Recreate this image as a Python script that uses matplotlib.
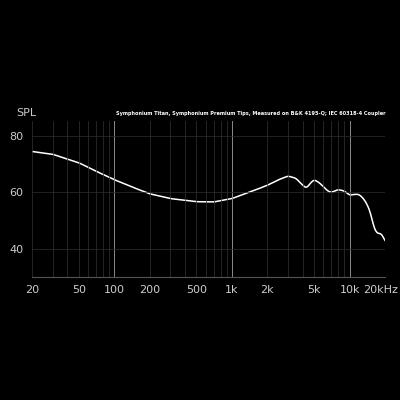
import matplotlib
matplotlib.use("Agg")
import matplotlib.pyplot as plt
import matplotlib.transforms as mtransforms
import numpy as np

freq = [20, 30, 50, 70, 100, 150, 200, 300, 500, 700, 1000, 1500, 2000, 2500, 3000, 3500, 4000, 4300, 4700, 5000, 5500, 6000, 6500, 7000, 8000, 9000, 10000, 11000, 12000, 13000, 14000, 15000, 16000, 17000, 18000, 19000, 20000]
spl = [74.5, 73.5, 70.5, 67.5, 64.5, 61.5, 59.5, 57.8, 56.7, 56.6, 57.8, 60.5, 62.5, 64.5, 65.8, 65.0, 62.5, 61.5, 63.5, 64.5, 63.5, 62.0, 60.5, 60.0, 61.0, 60.5, 59.0, 59.3, 59.3, 58.0, 56.0, 53.0, 48.0, 45.5, 45.5, 45.0, 42.5]
xticks = [20, 50, 100, 200, 500, 1000, 2000, 5000, 10000, 20000]
xlabels = ["20", "50", "100", "200", "500", "1k", "2k", "5k", "10k", "20kHz"]
yticks = [40, 60, 80]

fig = plt.figure(figsize=(4, 4), dpi=100, facecolor="black")
ax = fig.add_axes([0.08, 0.3075, 0.8825, 0.39])
ax.set_facecolor("black")
lf = np.log10(freq)
xs = np.logspace(np.log10(20), np.log10(20000), 600)
ys = np.interp(np.log10(xs), lf, spl)
k = np.ones(7) / 7
ys_s = np.convolve(np.pad(ys, 3, mode="edge"), k, mode="valid")
ax.plot(xs, ys_s, color="white", lw=1.1)
ax.set_xscale("log")
ax.set_xlim(20, 20000)
ax.set_ylim(30, 85.3)
minor = [m * 10**e for e in range(1, 5) for m in range(2, 10) if 20 <= m * 10**e <= 20000]
for f in minor:
    ax.axvline(f, color="#333333", lw=0.5)
for f in [100, 1000, 10000]:
    ax.axvline(f, color="#8a8a8a", lw=0.7)
for y in yticks:
    ax.axhline(y, color="#2e2e2e", lw=0.5)
ax.set_xticks(xticks)
ax.set_xticklabels(xlabels)
ax.xaxis.set_minor_locator(matplotlib.ticker.NullLocator())
ax.set_yticks(yticks)
ax.tick_params(colors="#cccccc", length=0, labelsize=8, pad=6)
last = ax.get_xticklabels()[-1]
last.set_transform(last.get_transform() + mtransforms.ScaledTranslation(-4/100, 0, fig.dpi_scale_trans))
for s in ax.spines.values():
    s.set_visible(False)
ax.spines["bottom"].set_visible(True)
ax.spines["bottom"].set_color("#555555")
fig.text(0.04, 0.71, "SPL", color="#cccccc", fontsize=8)
fig.text(0.963, 0.712, "Symphonium Titan, Symphonium Premium Tips, Measured on B&K 4195-Q; IEC 60318-4 Coupler",
         color="white", fontsize=3.6, ha="right", fontweight="bold")
fig.savefig("out.png", facecolor="black")
